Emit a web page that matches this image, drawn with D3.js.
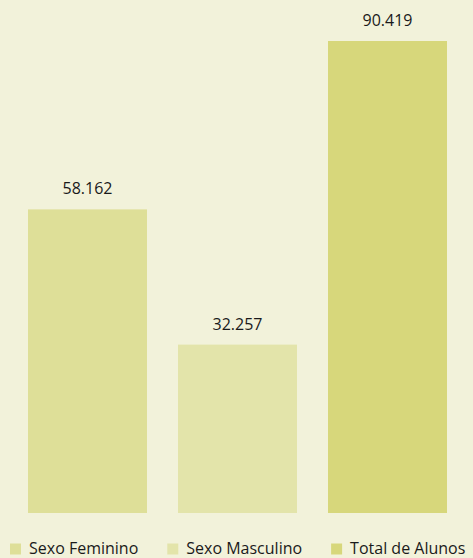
<!DOCTYPE html>
<html>
<head>
<meta charset="utf-8">
<script src="https://cdn.jsdelivr.net/npm/d3@7"></script>
<style>
html,body{margin:0;padding:0;background:#F2F2DA;overflow:hidden;}
svg{display:block;}
text{font-family:"Open Sans","Noto Sans",sans-serif;fill:#1a1a1a;}
</style>
</head>
<body>
<svg id="chart" width="473" height="558"></svg>
<script>
const categories = ["Sexo Feminino", "Sexo Masculino", "Total de Alunos"];
const values = [58162, 32257, 90419];
const valueLabels = ["58.162", "32.257", "90.419"];
const colors = ["#DEDF98", "#E3E4AA", "#D7D77B"];

const W = 473, H = 558;
const svg = d3.select("#chart");
svg.append("rect").attr("width", W).attr("height", H).attr("fill", "#F2F2DA");

const x = d3.scaleBand().domain(categories).range([12.5, 462.5])
  .paddingInner(0.2067).paddingOuter(0.1033);
const y = d3.scaleLinear().domain([0, 90419]).range([513, 41]);

const g = svg.append("g");
g.selectAll("rect.bar").data(categories).join("rect")
  .attr("class", "bar")
  .attr("x", d => x(d))
  .attr("width", x.bandwidth())
  .attr("y", (d, i) => y(values[i]))
  .attr("height", (d, i) => y(0) - y(values[i]))
  .attr("fill", (d, i) => colors[i]);

g.selectAll("text.lbl").data(categories).join("text")
  .attr("class", "lbl")
  .attr("x", d => x(d) + x.bandwidth() / 2)
  .attr("y", (d, i) => y(values[i]) - 15)
  .attr("text-anchor", "middle")
  .attr("font-size", 16)
  .text((d, i) => valueLabels[i]);

// legend
const leg = svg.append("g");
let cx = 10;
categories.forEach((c, i) => {
  leg.append("rect").attr("x", cx).attr("y", 543.5).attr("width", 11).attr("height", 11).attr("fill", colors[i]);
  const t = leg.append("text").attr("x", cx + 19).attr("y", 553.5).attr("font-size", 16).text(c);
  const w = t.node().getComputedTextLength();
  cx = cx + 19 + w + 29;
});
</script>
</body>
</html>
